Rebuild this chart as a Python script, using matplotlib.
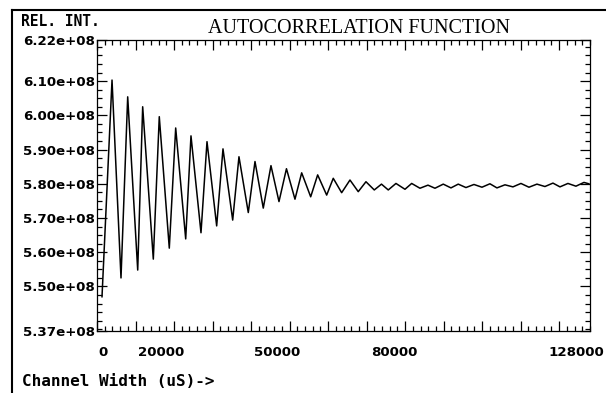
import matplotlib
matplotlib.use("Agg")
import matplotlib.pyplot as plt
from matplotlib.ticker import MultipleLocator, FixedLocator
from matplotlib.lines import Line2D

# peaks and troughs (x in uS, y in 1e6 counts)
peak_x = [3900, 7970, 11860, 16170, 20430, 24400, 28560, 32710, 36860, 41020,
          45170, 49190, 53140, 57290, 61340, 65680, 69830, 73860, 77620, 81700,
          85930, 89900, 93790, 97870, 102020, 105920, 110070, 114220, 118380,
          122270, 126430]
peak_y = [610.3, 605.4, 602.5, 599.6, 596.3, 594.0, 592.3, 590.2, 587.9, 586.5,
          585.3, 584.4, 583.2, 582.6, 581.6, 581.1, 580.6, 579.9, 580.1, 580.1,
          579.6, 579.9, 579.9, 579.8, 580.0, 579.7, 580.1, 579.9, 580.2,
          580.1, 580.4]

trough_x = [1300, 6230, 10570, 14620, 18770, 23030, 27000, 31070, 35230, 39280,
            43170, 47250, 51400, 55480, 59630, 63520, 67830, 71990, 75620, 79960,
            83850, 87750, 91900, 95790, 99950, 103840, 107990, 112150, 116300,
            120200, 124350, 127700]
trough_y = [547.0, 552.5, 554.8, 558.0, 561.2, 563.9, 565.7, 567.7, 569.4, 571.6,
            572.9, 574.8, 575.5, 576.2, 576.7, 577.4, 577.7, 578.2, 578.2, 578.4,
            578.7, 578.7, 578.8, 578.9, 579.0, 578.8, 579.1, 579.0, 579.2,
            579.1, 579.3, 580.0]

ytick_vals = [622, 610, 600, 590, 580, 570, 560, 550, 537]
ytick_labels = ["6.22e+08", "6.10e+08", "6.00e+08", "5.90e+08", "5.80e+08",
                "5.70e+08", "5.60e+08", "5.50e+08", "5.37e+08"]

# x labels sit where the instrument printed them, not exactly on the ticks
xlabel_pos = [1560, 16540, 46650, 77100, 124500]
xlabel_txt = ["0", "20000", "50000", "80000", "128000"]

# merge extremes into one trace
pts = sorted(zip(peak_x + trough_x, peak_y + trough_y))
xs = [p[0] for p in pts]
ys = [p[1] * 1e6 for p in pts]

W, H = 606, 393
fig = plt.figure(figsize=(W / 100, H / 100), dpi=100)
ax = fig.add_axes([97 / W, 62 / H, 493 / W, 291 / H])

ax.plot(xs, ys, color="black", lw=1.1)

ax.set_xlim(0, 128000)
ax.set_ylim(537e6, 622e6)

ax.xaxis.set_major_locator(MultipleLocator(10000))
ax.xaxis.set_minor_locator(MultipleLocator(2000))
ax.set_xticklabels([])
ax.yaxis.set_major_locator(FixedLocator([v * 1e6 for v in ytick_vals]))
ax.yaxis.set_minor_locator(MultipleLocator(2.5e6))
ax.set_yticklabels(ytick_labels)

ax.tick_params(which="both", direction="in", top=True, right=True, color="black", width=0.9)
ax.tick_params(which="major", length=7)
ax.tick_params(which="minor", length=3.6)
ax.tick_params(axis="y", pad=1.5)
for lab in ax.get_yticklabels():
    lab.set_fontfamily("DejaVu Sans")
    lab.set_fontweight("bold")
    lab.set_fontsize(9.6)
    lab.set_verticalalignment("center_baseline")

for sp in ax.spines.values():
    sp.set_linewidth(0.9)
    sp.set_color("black")

for xp, txt in zip(xlabel_pos, xlabel_txt):
    ax.text(xp, -0.0756, txt, transform=ax.get_xaxis_transform(), ha="center",
            va="center", fontsize=9.6, fontweight="bold", family="DejaVu Sans")

fig.text(359.5 / W, 1 - 33 / H, "AUTOCORRELATION FUNCTION", ha="center", va="baseline",
         fontsize=14.5, family="Liberation Serif")
fig.text(21 / W, 1 - 22 / H, "REL. INT.", ha="left", va="center",
         fontsize=10.5, fontweight="bold", family="DejaVu Sans Mono")
fig.text(22 / W, 1 - 382 / H, "Channel Width (uS)->", ha="left", va="center",
         fontsize=11.5, fontweight="bold", family="DejaVu Sans Mono")

# printout frame
fig.add_artist(Line2D([12 / W, 1], [1 - 10 / H, 1 - 10 / H], color="black", lw=1.5))
fig.add_artist(Line2D([12 / W, 12 / W], [1 - 10 / H, 0], color="black", lw=1.5))

fig.savefig("out.png", dpi=100)
